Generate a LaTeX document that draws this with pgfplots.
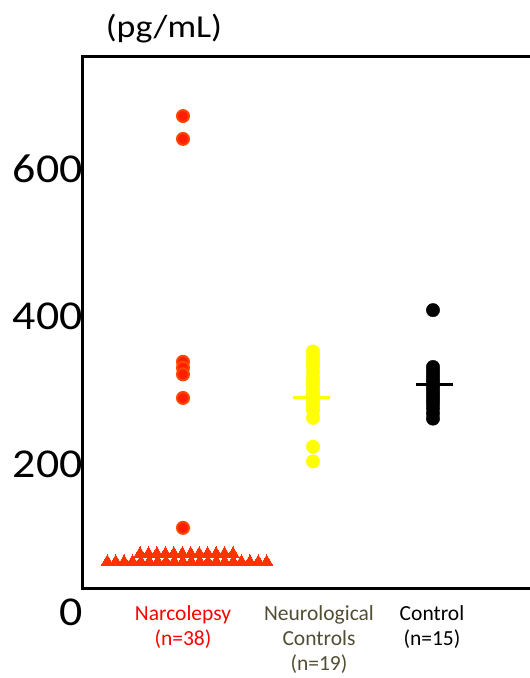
\documentclass[border=0pt]{standalone}
\usepackage{fontspec}
\setmainfont{Carlito}
\newfontfamily\tickfont[FakeStretch=1.12]{Carlito}
\usepackage{pgfplots}
\pgfplotsset{compat=1.18}
\definecolor{narcfill}{RGB}{255,30,0}
\definecolor{narcdraw}{RGB}{255,70,0}
\definecolor{tri}{RGB}{255,51,0}
\definecolor{neuro}{RGB}{255,255,0}
\definecolor{neurolab}{RGB}{82,78,52}
\begin{document}
\begin{tikzpicture}
\useasboundingbox (0,0) rectangle (530pt,678pt);
\clip (0,0) rectangle (530pt,678pt);
\begin{axis}[
  at={(83pt,90pt)}, anchor=south west,
  scale only axis, width=500pt, height=531pt,
  xmin=83, xmax=583, ymin=32.5, ymax=752,
  axis line style={line width=3pt},
  clip=false,
  ytick={200,400,600},
  xtick={183,319,432},
  xticklabels={{\textcolor{red}{Narcolepsy}\\\textcolor{red}{(n=38)}},
               {\textcolor{neurolab}{Neurological}\\\textcolor{neurolab}{Controls}\\\textcolor{neurolab}{(n=19)}},
               {Control\\(n=15)}},
  major tick length=0pt,
  tick style={draw=none},
  /pgf/number format/assume math mode=true,
  yticklabel style={font=\tickfont\fontsize{41}{41}\selectfont, inner xsep=0pt, anchor=east},
  xticklabel style={font=\fontsize{21.5}{25}\selectfont, align=center, anchor=north, inner sep=0pt, yshift=-17pt},
]
% Narcolepsy triangles (bottom row)
\addplot[only marks, mark=triangle*, mark size=7pt, mark options={fill=tri, draw=tri, line width=0pt}] coordinates {
(107.3,68) (115.7,68) (124.1,68) (132.5,68) (140.9,68) (149.3,68) (157.6,68) (166.0,68) (174.4,68) (182.8,68)
(191.2,68) (199.6,68) (208.0,68) (216.4,68) (224.8,68) (233.2,68) (241.5,68) (249.9,68) (258.3,68) (266.7,68)};
% Narcolepsy triangles (upper row)
\addplot[only marks, mark=triangle*, mark size=7pt, mark options={fill=tri, draw=tri, line width=0pt}] coordinates {
(140.0,79) (148.5,79) (156.9,79) (165.4,79) (173.8,79) (182.3,79) (190.7,79) (199.2,79) (207.6,79) (216.1,79) (224.5,79) (233.0,79)};
% Narcolepsy circles
\addplot[only marks, mark=*, mark size=6pt, mark options={fill=narcfill, draw=narcdraw, line width=2pt}] coordinates {
(183,672) (183,641) (183,339) (183,331) (183,322) (183,290) (183,114)};
% Neurological controls
\addplot[only marks, mark=*, mark size=6.7pt, mark options={fill=neuro, draw=neuro}] coordinates {
(313,353) (313,348) (313,341) (313,336) (313,332) (313,325) (313,317) (313,312) (313,308) (313,301)
(313,296) (313,292) (313,287) (313,283) (313,278) (313,274) (313,263) (313,224) (313,204)};
\addplot[neuro, line width=3pt, mark=none] coordinates {(292.7,290) (330,290)};
% Controls
\addplot[only marks, mark=*, mark size=6.7pt, mark options={fill=black, draw=black}] coordinates {
(433,409) (433,332) (433,327) (433,322) (433,317) (433,312) (433,307) (433,302) (433,297) (433,292)
(433,287) (433,282) (433,276) (433,269) (433,262)};
\addplot[black, line width=3pt, mark=none] coordinates {(415.7,308) (452.7,308)};
\node[anchor=east, inner sep=0pt, font=\tickfont\fontsize{41}{41}\selectfont] at (axis cs:83,0) {0};
\node[font=\tickfont\fontsize{32}{32}\selectfont] at (axis cs:164,791) {(pg/mL)};
\end{axis}
\end{tikzpicture}
\end{document}
